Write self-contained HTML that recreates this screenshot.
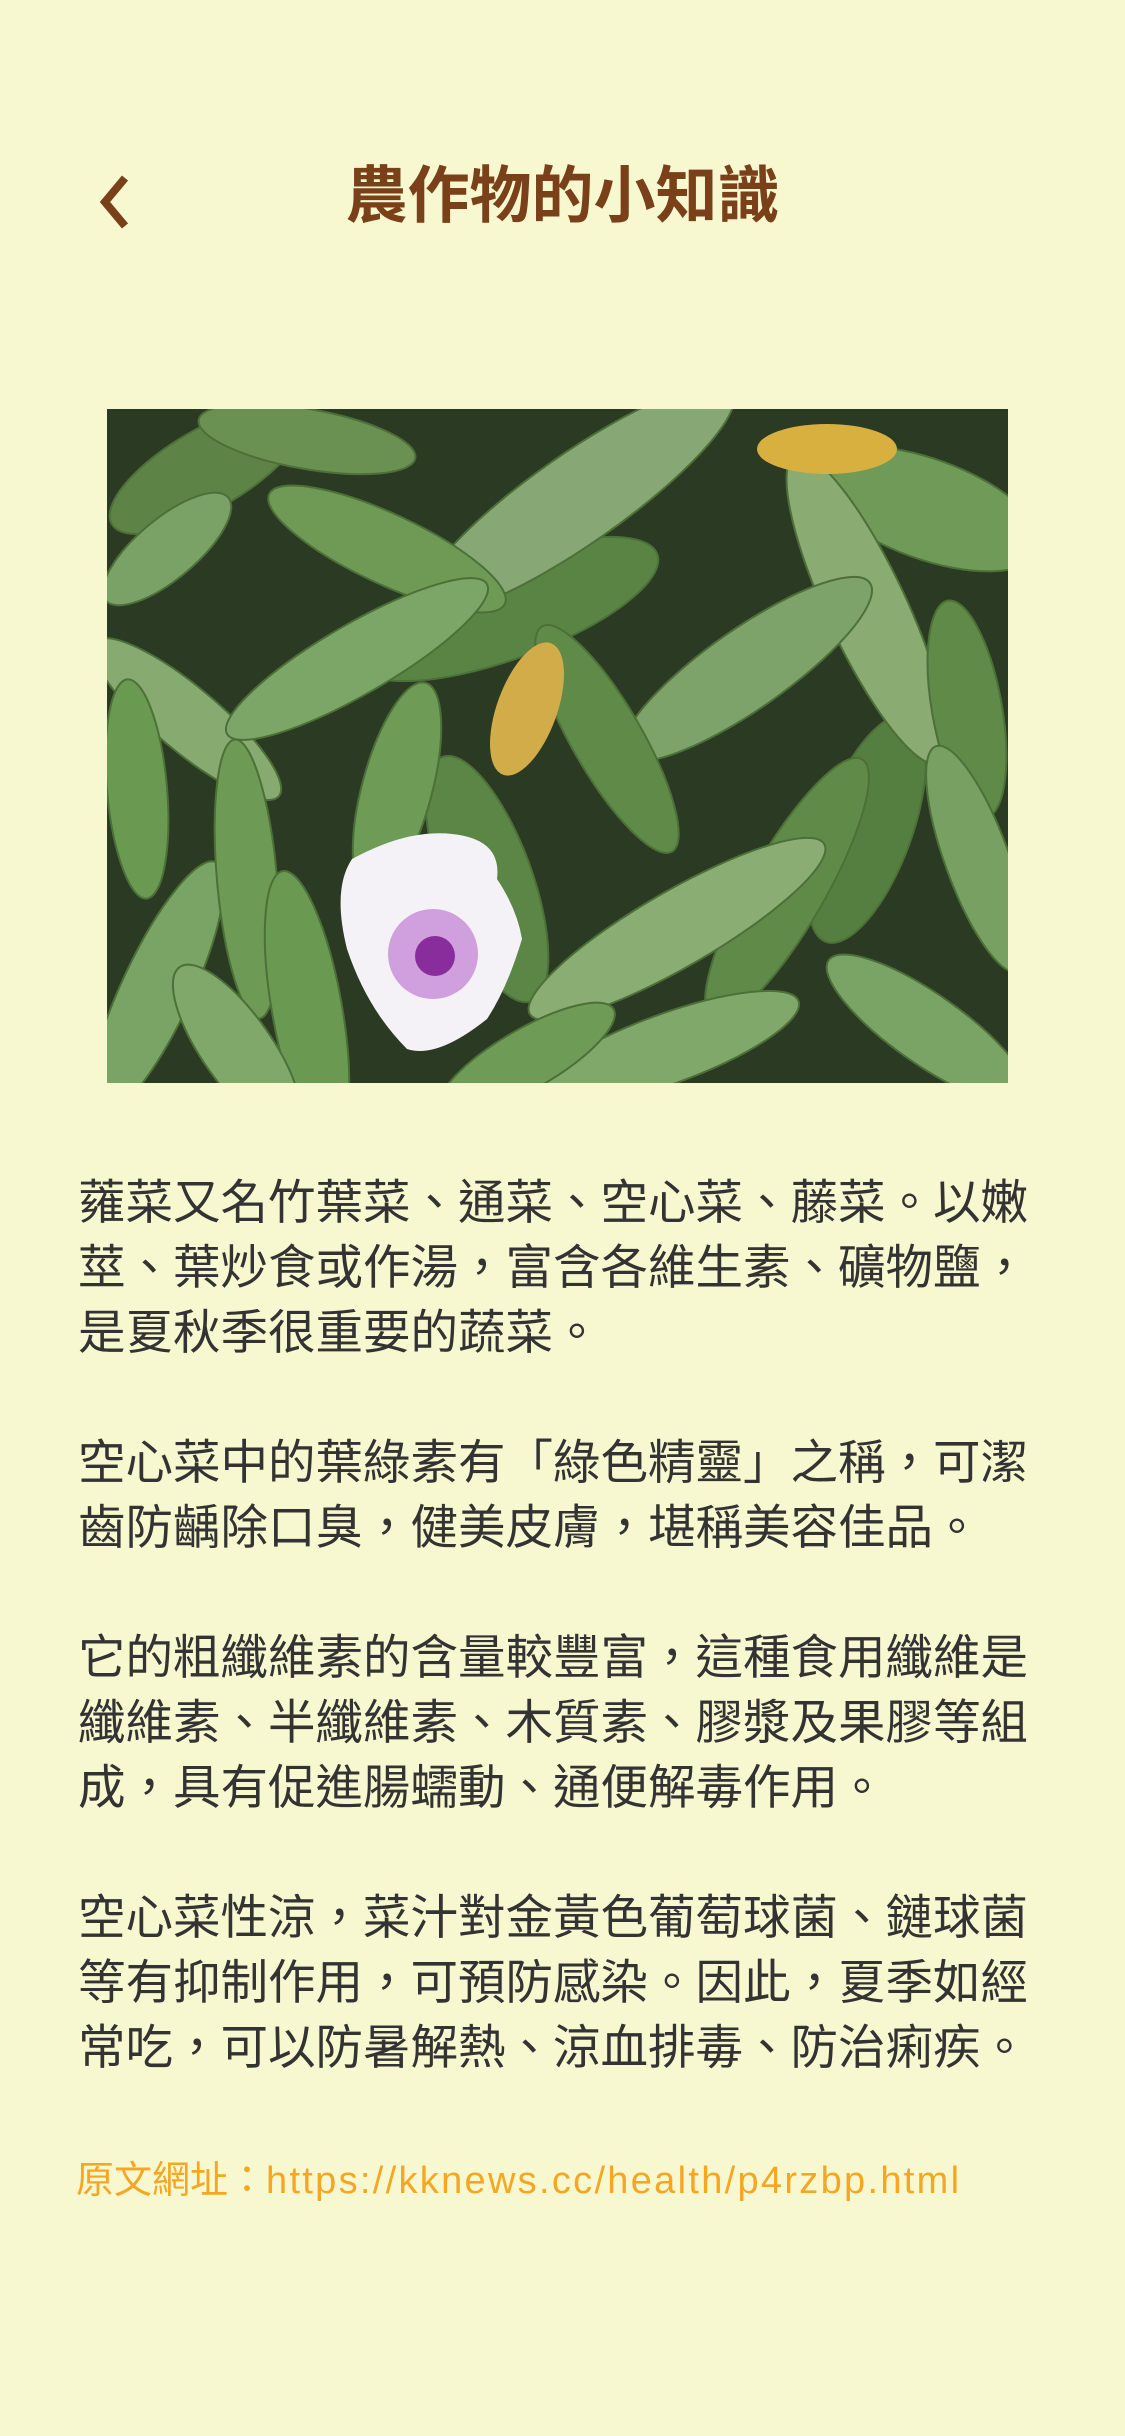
<!DOCTYPE html>
<html><head><meta charset="utf-8">
<style>
html,body{margin:0;padding:0;}
body{width:1125px;height:2436px;background:#f8f8d0;position:relative;overflow:hidden;font-family:"Liberation Sans","Noto Sans CJK TC",sans-serif;}
.title{position:absolute;left:0;width:1125px;top:152px;text-align:center;font-size:62px;font-weight:bold;color:#7a4019;line-height:90px;}
.back{position:absolute;left:95px;top:170px;width:50px;height:60px;}
.photo{position:absolute;left:107px;top:409px;width:901px;height:674px;}
.body{position:absolute;left:78px;top:1171px;font-size:47.5px;line-height:65px;color:#333;white-space:nowrap;}
.link{position:absolute;left:76px;top:2157px;font-size:38px;line-height:48px;color:#f5a623;white-space:nowrap;}
.link span{letter-spacing:2.3px;}
</style></head><body>
<div class="back"><svg width="50" height="60" viewBox="0 0 50 60"><polyline points="30,8 10,32 30,56" fill="none" stroke="#7a4019" stroke-width="8"/></svg></div>
<div class="title">農作物的小知識</div>
<svg class="photo" viewBox="0 0 901 674">
<rect width="901" height="674" fill="#2b3a22"/>
<g fill="#6f9a55" stroke="#4c7038" stroke-width="2">
<ellipse cx="100" cy="60" rx="110" ry="40" transform="rotate(-30 100 60)" fill="#5d8446"/>
<ellipse cx="400" cy="200" rx="160" ry="50" transform="rotate(-20 400 200)" fill="#5a8444"/>
<ellipse cx="820" cy="100" rx="120" ry="50" transform="rotate(20 820 100)" fill="#6f9a58"/>
<ellipse cx="380" cy="470" rx="130" ry="45" transform="rotate(70 380 470)" fill="#5b8645"/>
<ellipse cx="760" cy="420" rx="120" ry="45" transform="rotate(-70 760 420)" fill="#557f40"/>
<ellipse cx="470" cy="90" rx="190" ry="45" transform="rotate(-35 470 90)" fill="#87a874"/>
<ellipse cx="280" cy="140" rx="130" ry="35" transform="rotate(25 280 140)"/>
<ellipse cx="60" cy="140" rx="80" ry="30" transform="rotate(-40 60 140)" fill="#7aa266"/>
<ellipse cx="200" cy="30" rx="110" ry="30" transform="rotate(10 200 30)" fill="#6a9052"/>
<ellipse cx="760" cy="200" rx="170" ry="40" transform="rotate(65 760 200)" fill="#8aab72"/>
<ellipse cx="640" cy="260" rx="150" ry="40" transform="rotate(-35 640 260)" fill="#7ea36a"/>
<ellipse cx="860" cy="300" rx="110" ry="35" transform="rotate(80 860 300)" fill="#5f8a48"/>
<ellipse cx="80" cy="310" rx="120" ry="32" transform="rotate(40 80 310)" fill="#86aa70"/>
<ellipse cx="250" cy="250" rx="150" ry="35" transform="rotate(-30 250 250)" fill="#7ca667"/>
<ellipse cx="500" cy="330" rx="130" ry="35" transform="rotate(60 500 330)" fill="#5f8a48"/>
<ellipse cx="290" cy="380" rx="110" ry="35" transform="rotate(-75 290 380)" fill="#6e9b55"/>
<ellipse cx="30" cy="380" rx="110" ry="30" transform="rotate(85 30 380)" fill="#6a9a52"/>
<ellipse cx="680" cy="480" rx="150" ry="38" transform="rotate(-60 680 480)" fill="#5f8a48"/>
<ellipse cx="570" cy="520" rx="170" ry="38" transform="rotate(-30 570 520)" fill="#89ad72"/>
<ellipse cx="870" cy="450" rx="120" ry="32" transform="rotate(70 870 450)" fill="#77a062"/>
<ellipse cx="50" cy="580" rx="140" ry="35" transform="rotate(-65 50 580)" fill="#7aa466"/>
<ellipse cx="140" cy="470" rx="140" ry="30" transform="rotate(85 140 470)" fill="#6d9a55"/>
<ellipse cx="200" cy="600" rx="140" ry="35" transform="rotate(80 200 600)" fill="#6a9a52"/>
<ellipse cx="130" cy="640" rx="100" ry="35" transform="rotate(55 130 640)" fill="#80a86a"/>
<ellipse cx="560" cy="640" rx="140" ry="35" transform="rotate(-20 560 640)" fill="#80a86a"/>
<ellipse cx="820" cy="620" rx="120" ry="35" transform="rotate(35 820 620)" fill="#7aa466"/>
<ellipse cx="420" cy="650" rx="100" ry="30" transform="rotate(-30 420 650)" fill="#6e9b55"/>
<ellipse cx="720" cy="40" rx="70" ry="25" fill="#d8b040" stroke="none"/>
<ellipse cx="420" cy="300" rx="30" ry="70" transform="rotate(20 420 300)" fill="#d3ac4a" stroke="none"/>
</g>
<g>
<path d="M240,540 Q225,480 245,450 Q300,420 345,425 Q395,430 390,470 Q410,500 415,530 Q400,580 380,610 Q330,650 300,640 Q260,600 240,540Z" fill="#f4f2f6"/>
<circle cx="326" cy="545" r="45" fill="#b35bc8" opacity="0.55"/>
<circle cx="328" cy="547" r="20" fill="#8a2d9c"/>
</g>
</svg>
<div class="body">
<div>蕹菜又名竹葉菜、通菜、空心菜、藤菜。以嫩</div>
<div>莖、葉炒食或作湯，富含各維生素、礦物鹽，</div>
<div>是夏秋季很重要的蔬菜。</div>
<div>&nbsp;</div>
<div>空心菜中的葉綠素有「綠色精靈」之稱，可潔</div>
<div>齒防齲除口臭，健美皮膚，堪稱美容佳品。</div>
<div>&nbsp;</div>
<div>它的粗纖維素的含量較豐富，這種食用纖維是</div>
<div>纖維素、半纖維素、木質素、膠漿及果膠等組</div>
<div>成，具有促進腸蠕動、通便解毒作用。</div>
<div>&nbsp;</div>
<div>空心菜性涼，菜汁對金黃色葡萄球菌、鏈球菌</div>
<div>等有抑制作用，可預防感染。因此，夏季如經</div>
<div>常吃，可以防暑解熱、涼血排毒、防治痢疾。</div>
</div>
<div class="link">原文網址：<span>https://kknews.cc/health/p4rzbp.html</span></div>
</body></html>
